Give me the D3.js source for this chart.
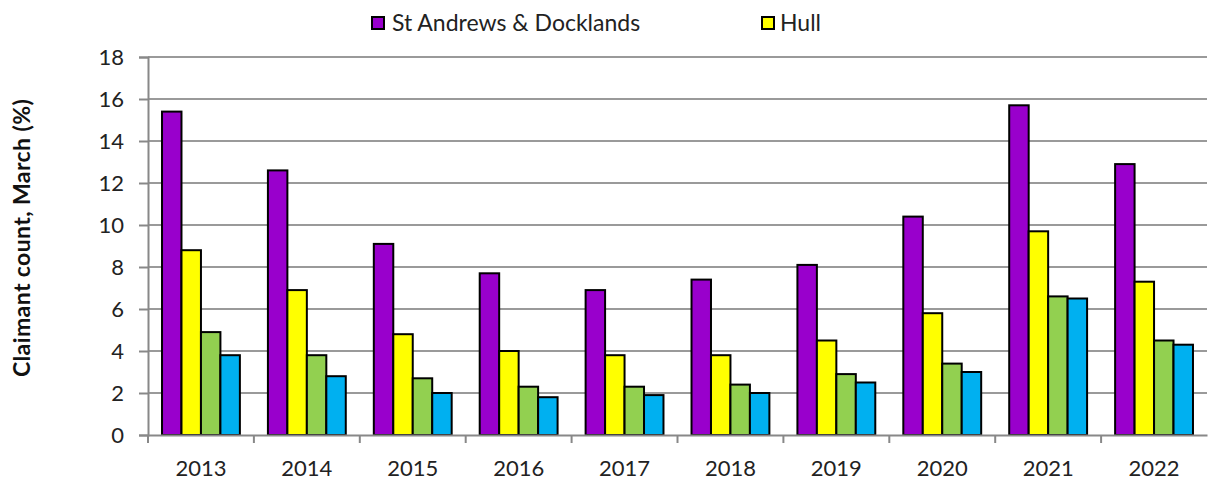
<!DOCTYPE html>
<html>
<head>
<meta charset="utf-8">
<script src="https://cdn.jsdelivr.net/npm/d3@7"></script>
<style>
  body { margin: 0; background: #fff; }
  svg { display: block; font-family: Lato, "Open Sans", sans-serif; }
</style>
</head>
<body>
<div id="chart"></div>
<script>
"use strict";

var years = ['2013','2014','2015','2016','2017','2018','2019','2020','2021','2022'];
var seriesNames = ['St Andrews & Docklands', 'Hull', '', ''];
var seriesColors = ['#9900cc', '#ffff00', '#92d050', '#00b0f0'];

var stAndrews = [15.4, 12.6, 9.1, 7.7, 6.9, 7.4, 8.1, 10.4, 15.7, 12.9];
var hull      = [8.8, 6.9, 4.8, 4.0, 3.8, 3.8, 4.5, 5.8, 9.7, 7.3];
var green     = [4.9, 3.8, 2.7, 2.3, 2.3, 2.4, 2.9, 3.4, 6.6, 4.5];
var blue      = [3.8, 2.8, 2.0, 1.8, 1.9, 2.0, 2.5, 3.0, 6.5, 4.3];

var yTicks = [0, 2, 4, 6, 8, 10, 12, 14, 16, 18];

var seriesValues = [stAndrews, hull, green, blue];

var width = 1208, height = 481;
var plotLeft = 148, plotRight = 1207, plotTop = 57, plotBottom = 435;

var svg = d3.select('#chart').append('svg')
  .attr('width', width)
  .attr('height', height);

var x0 = d3.scaleBand().domain(years).range([plotLeft, plotRight]).padding(0);
var x1 = d3.scaleBand().domain(d3.range(4)).range([0, x0.bandwidth()])
  .paddingInner(0).paddingOuter(0.72);
var y = d3.scaleLinear().domain([0, 18]).range([plotBottom, plotTop]);

// gridlines
svg.append('g')
  .selectAll('line')
  .data(yTicks.filter(function(d){ return d > 0; }))
  .enter().append('line')
  .attr('x1', plotLeft).attr('x2', plotRight)
  .attr('y1', function(d){ return y(d); })
  .attr('y2', function(d){ return y(d); })
  .attr('stroke', '#9a9a9a')
  .attr('stroke-width', 2);

// bars
var groups = svg.append('g')
  .selectAll('g')
  .data(years)
  .enter().append('g')
  .attr('transform', function(d){ return 'translate(' + x0(d) + ',0)'; });

groups.selectAll('rect')
  .data(function(d, i){ return seriesValues.map(function(s, k){ return { k: k, v: s[i] }; }); })
  .enter().append('rect')
  .attr('x', function(d){ return x1(d.k); })
  .attr('width', x1.bandwidth())
  .attr('y', function(d){ return y(d.v); })
  .attr('height', function(d){ return y(0) - y(d.v); })
  .attr('fill', function(d){ return seriesColors[d.k]; })
  .attr('stroke', '#000')
  .attr('stroke-width', 2);

// y axis
var yAxis = svg.append('g')
  .attr('transform', 'translate(' + plotLeft + ',0)')
  .call(d3.axisLeft(y).tickValues(yTicks).tickSize(9).tickPadding(15));

// x axis
var xAxis = svg.append('g')
  .attr('transform', 'translate(0,' + plotBottom + ')')
  .call(d3.axisBottom(x0).tickSize(0).tickPadding(25));

// category separators on x axis
svg.append('g')
  .selectAll('line')
  .data(years)
  .enter().append('line')
  .attr('x1', function(d){ return x0(d); })
  .attr('x2', function(d){ return x0(d); })
  .attr('y1', plotBottom).attr('y2', plotBottom + 8)
  .attr('stroke', '#888')
  .attr('stroke-width', 2);

[yAxis, xAxis].forEach(function(a){
  a.select('.domain').attr('stroke', '#888').attr('stroke-width', 2);
  a.selectAll('.tick line').attr('stroke', '#888').attr('stroke-width', 2);
  a.selectAll('.tick text')
    .attr('fill', '#222')
    .style('font-size', '22px')
    .style('font-family', 'Lato, "Open Sans", sans-serif');
});

// y title
svg.append('text')
  .attr('transform', 'translate(30,238) rotate(-90)')
  .attr('text-anchor', 'middle')
  .style('font-size', '23px')
  .style('letter-spacing', '0.4px')
  .style('font-weight', 'bold')
  .attr('fill', '#111')
  .text('Claimant count, March (%)');

// legend
var legendX = [372, 762];
var legend = svg.append('g')
  .selectAll('g')
  .data(seriesNames.filter(function(n){ return n !== ''; }))
  .enter().append('g')
  .attr('transform', function(d, i){ return 'translate(' + legendX[i] + ',17)'; });

legend.append('rect')
  .attr('width', 12).attr('height', 12)
  .attr('fill', function(d, i){ return seriesColors[i]; })
  .attr('stroke', '#000')
  .attr('stroke-width', 2);

legend.append('text')
  .attr('x', function(d, i){ return i === 0 ? 20 : 18; })
  .attr('y', 14)
  .style('font-size', '23px')
  .attr('fill', '#222')
  .text(function(d){ return d; });
</script>
</body>
</html>
